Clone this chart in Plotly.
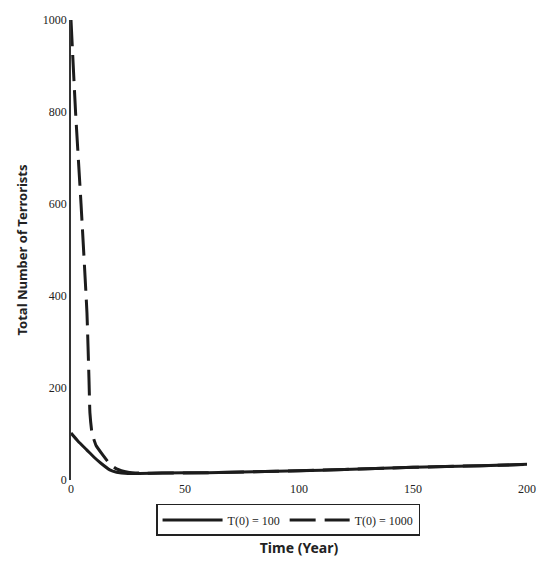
import plotly.graph_objects as go

# Data
t_100 = [0, 3, 7, 10, 13, 17, 20, 25, 30, 40, 60, 80, 100, 120, 140, 160, 180, 200]
v_100 = [102, 85, 65, 50, 37, 22, 17, 14, 14, 15, 16, 18, 20, 23, 26, 29, 31, 34]

t_1000 = [0, 2, 4.4, 7, 7.9, 8.3, 9.2, 11, 14, 17, 20, 25, 30, 40, 60, 80, 100, 120, 140, 160, 180, 200]
v_1000 = [1000, 800, 600, 363, 217, 146, 102, 75, 54, 35, 24, 17, 15, 15, 16, 18, 20, 23, 26, 29, 31, 34]

x_ticks = [0, 50, 100, 150, 200]
y_ticks = [0, 200, 400, 600, 800, 1000]

ink = "#1c1c1c"

fig = go.Figure()
fig.add_trace(go.Scatter(x=t_100, y=v_100, mode="lines", name="T(0) = 100",
                         line=dict(color=ink, width=3, shape="spline", smoothing=0.6)))
fig.add_trace(go.Scatter(x=t_1000, y=v_1000, mode="lines", name="T(0) = 1000",
                         line=dict(color=ink, width=3, dash="26px,9px", shape="spline", smoothing=0.4)))

fig.update_layout(
    width=540, height=571,
    margin=dict(l=71, r=13, t=20, b=91, autoexpand=False),
    paper_bgcolor="white", plot_bgcolor="white",
    showlegend=True,
    legend=dict(orientation="h", x=0.476, y=-0.052, xanchor="center", yanchor="top",
                bordercolor="#222", borderwidth=1.5, bgcolor="white",
                font=dict(family="Liberation Serif", size=12, color="#222"),
                itemwidth=60, tracegroupgap=0),
    xaxis=dict(range=[0, 200], tickvals=x_ticks, ticktext=[str(v) for v in x_ticks],
               showgrid=False, zeroline=False, showline=False, ticks="", automargin=False,
               tickfont=dict(family="Liberation Serif", size=12, color="#222"),
               title=dict(text="<b>Time (Year)</b>", standoff=48,
                          font=dict(family="Noto Sans", size=14, color="#222"))),
    yaxis=dict(range=[0, 1000], tickvals=y_ticks, ticktext=[str(v) for v in y_ticks],
               showgrid=False, zeroline=False, showline=True, linecolor="#333", linewidth=1.5,
               ticks="", ticklen=0, automargin=False,
               tickfont=dict(family="Liberation Serif", size=12, color="#222"),
               title=dict(text="<b>Total Number of Terrorists</b>", standoff=12,
                          font=dict(family="Noto Sans", size=13, color="#222"))),
)

fig.write_html("out.html", config={"displayModeBar": False},
               post_script="document.body.style.margin='0';document.body.style.overflow='hidden';")
